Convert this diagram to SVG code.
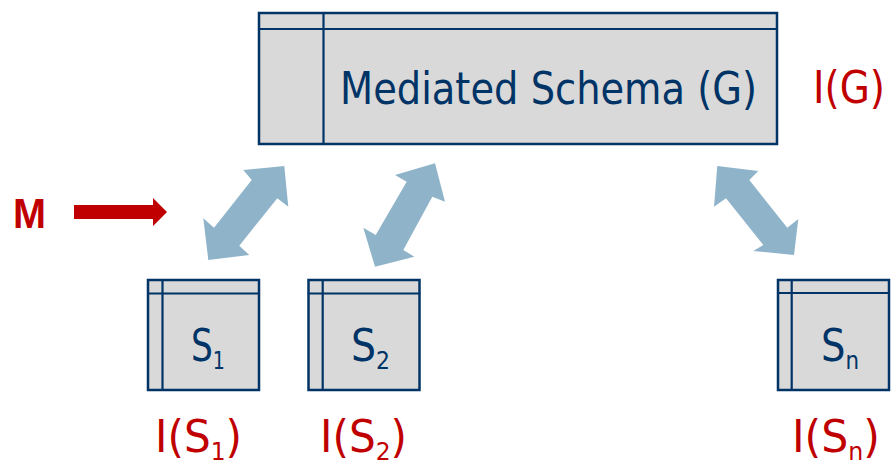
<svg xmlns="http://www.w3.org/2000/svg" width="891" height="462" viewBox="0 0 891 462">
  <style>
    .box { fill: #d9d9d9; stroke: #003366; stroke-width: 2.5; }
    .rule { stroke: #003366; stroke-width: 2.2; fill: none; }
    .lbl { font-family: "DejaVu Sans", "Liberation Sans", sans-serif; fill: #003366; }
    .inst { font-family: "DejaVu Sans", "Liberation Sans", sans-serif; fill: #c00000; }
    .link { fill: #8fb4ca; }
    .sub { font-size: 25px; }
  </style>

  <!-- Global (mediated) schema -->
  <g id="mediated-schema">
    <rect class="box" x="259" y="13" width="518" height="131"/>
    <line class="rule" x1="259" y1="29" x2="777" y2="29"/>
    <line class="rule" x1="323.5" y1="13" x2="323.5" y2="144"/>
    <text class="lbl" x="340" y="104" font-size="45" textLength="417" lengthAdjust="spacingAndGlyphs">Mediated Schema (G)</text>
  </g>
  <text id="instance-g" class="inst" x="813" y="103" font-size="45" textLength="72" lengthAdjust="spacingAndGlyphs">I(G)</text>

  <!-- Source schemas -->
  <g id="source-s1">
    <rect class="box" x="148" y="280" width="111" height="110"/>
    <line class="rule" x1="148" y1="293.5" x2="259" y2="293.5"/>
    <line class="rule" x1="162.5" y1="280" x2="162.5" y2="390"/>
    <text class="lbl" x="191" y="361" font-size="45" textLength="34" lengthAdjust="spacingAndGlyphs">S<tspan class="sub" dy="8">1</tspan></text>
  </g>
  <text id="instance-s1" class="inst" x="155" y="452" font-size="45" textLength="87" lengthAdjust="spacingAndGlyphs">I(S<tspan class="sub" dy="8">1</tspan><tspan dy="-8">)</tspan></text>

  <g id="source-s2">
    <rect class="box" x="308.5" y="280" width="111" height="110"/>
    <line class="rule" x1="308.5" y1="293.5" x2="419.5" y2="293.5"/>
    <line class="rule" x1="322.7" y1="280" x2="322.7" y2="390"/>
    <text class="lbl" x="351" y="361" font-size="45" textLength="39" lengthAdjust="spacingAndGlyphs">S<tspan class="sub" dy="8">2</tspan></text>
  </g>
  <text id="instance-s2" class="inst" x="320" y="452" font-size="45" textLength="87" lengthAdjust="spacingAndGlyphs">I(S<tspan class="sub" dy="8">2</tspan><tspan dy="-8">)</tspan></text>

  <g id="source-sn">
    <rect class="box" x="778" y="280" width="111" height="110"/>
    <line class="rule" x1="778" y1="293" x2="889" y2="293"/>
    <line class="rule" x1="791.7" y1="280" x2="791.7" y2="390"/>
    <text class="lbl" x="821" y="361" font-size="45" textLength="38" lengthAdjust="spacingAndGlyphs">S<tspan class="sub" dy="8">n</tspan></text>
  </g>
  <text id="instance-sn" class="inst" x="792" y="452" font-size="45" textLength="88" lengthAdjust="spacingAndGlyphs">I(S<tspan class="sub" dy="8">n</tspan><tspan dy="-8">)</tspan></text>

  <!-- Mapping label -->
  <text id="mapping-label" x="13" y="228" font-family="'Liberation Sans', 'DejaVu Sans', sans-serif" font-weight="bold" font-size="43" fill="#c00000" textLength="33" lengthAdjust="spacingAndGlyphs">M</text>

  <!-- Connectors -->
  <g id="connectors">
    <polygon id="mapping-arrow" fill="#c00000" points="74,205 153,205 153,198 167,212 153,226 153,219 74,219"/>
    <polygon class="link" points="243.3,170 284.3,166 288.3,206.7 277.3,198.3 239.3,245.7 249.3,255 208.3,260 203.3,218.3 214,227.7 251.7,180"/>
    <polygon class="link" points="395,175 435,163.3 445,201.7 432.3,196.7 403.3,250 414.3,256.7 375,266.7 363.3,227.7 375.7,235 406.7,181.7"/>
    <polygon class="link" points="717.3,166 758.3,171 749.3,180 787.3,227.7 798.3,219 794,255 753.3,251 763.3,245 726,198.3 714,206.7"/>
  </g>
</svg>
